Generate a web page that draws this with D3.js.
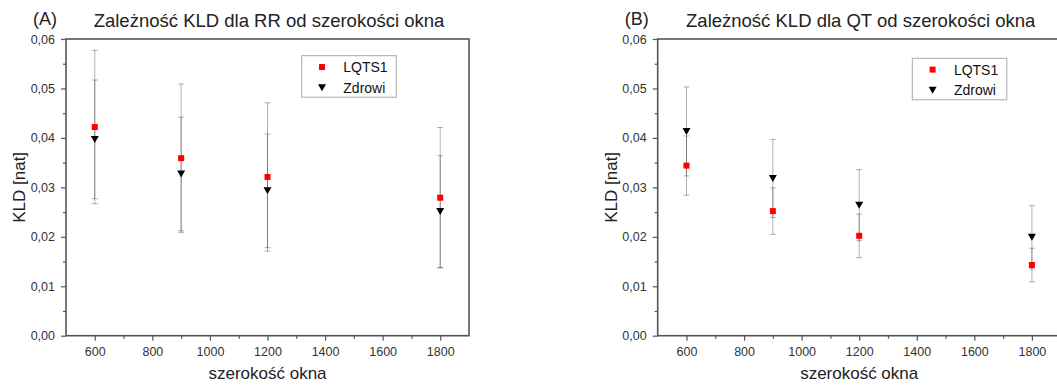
<!DOCTYPE html>
<html>
<head>
<meta charset="utf-8">
<script src="https://cdn.jsdelivr.net/npm/d3@7"></script>
<style>
    body { margin: 0; background: #fff; }
    svg { display: block; font-family: "Liberation Sans", Arial, sans-serif; }
</style>
</head>
<body>
<svg id="chart" width="1057" height="385"></svg>
<script>
// Window widths (x values)
var windows = [600, 900, 1200, 1800];
var xTicks = [600, 800, 1000, 1200, 1400, 1600, 1800];
var yTicks = [0, 0.01, 0.02, 0.03, 0.04, 0.05, 0.06];
var seriesNames = ["LQTS1", "Zdrowi"];

// (A) RR
var rrLqtsMean = [0.0422, 0.0359, 0.0321, 0.0279];
var rrLqtsErr = [0.0155, 0.0150, 0.0150, 0.0142];
var rrZdrowiMean = [0.0397, 0.0327, 0.0293, 0.0251];
var rrZdrowiErr = [0.0120, 0.0115, 0.0115, 0.0113];

// (B) QT
var qtLqtsMean = [0.0344, 0.0252, 0.0202, 0.0143];
var qtLqtsErr = [0.0060, 0.0047, 0.0044, 0.0034];
var qtZdrowiMean = [0.0413, 0.0318, 0.0264, 0.0199];
var qtZdrowiErr = [0.0090, 0.0079, 0.0072, 0.0064];

var svg = d3.select("#chart");
var plotW = 403, plotH = 296.7;
var fmtY = function (d) { return d3.format(".2f")(d).replace(".", ","); };

function drawPanel(left, letter, title, lqtsMean, lqtsErr, zdrMean, zdrErr, legendPos) {
    var top = 39;
    var g = svg.append("g").attr("transform", "translate(" + left + "," + top + ")");

    var x = d3.scaleLinear().domain([500, 1900]).range([0, plotW]);
    var y = d3.scaleLinear().domain([0, 0.06]).range([plotH, 0]);

    // minor ticks
    var minorX = d3.range(700, 1900, 200);
    var minorY = d3.range(0.005, 0.06, 0.01);
    g.append("g").attr("transform", "translate(0," + plotH + ")")
        .call(d3.axisBottom(x).tickValues(minorX).tickSize(3).tickFormat(""))
        .call(styleAxis);
    g.append("g")
        .call(d3.axisLeft(y).tickValues(minorY).tickSize(3).tickFormat(""))
        .call(styleAxis);

    // major ticks
    g.append("g").attr("transform", "translate(0," + plotH + ")")
        .call(d3.axisBottom(x).tickValues(xTicks).tickSize(5).tickPadding(6).tickFormat(d3.format("d")))
        .call(styleAxis);
    g.append("g")
        .call(d3.axisLeft(y).tickValues(yTicks).tickSize(5).tickPadding(6).tickFormat(fmtY))
        .call(styleAxis);

    // frame
    g.append("rect").attr("width", plotW).attr("height", plotH)
        .attr("fill", "none").attr("stroke", "#555").attr("stroke-width", 1.6);

    // error bars
    var series = [
        { mean: lqtsMean, err: lqtsErr },
        { mean: zdrMean, err: zdrErr }
    ];
    series.forEach(function (s) {
        var data = windows.map(function (w, i) { return { w: w, m: s.mean[i], e: s.err[i] }; });
        var eb = g.append("g").attr("stroke", "#000").attr("stroke-opacity", 0.3).attr("stroke-width", 1);
        eb.selectAll("line.v").data(data).enter().append("line")
            .attr("x1", function (d) { return x(d.w); }).attr("x2", function (d) { return x(d.w); })
            .attr("y1", function (d) { return y(d.m + d.e); }).attr("y2", function (d) { return y(d.m - d.e); });
        eb.selectAll("line.hi").data(data).enter().append("line")
            .attr("x1", function (d) { return x(d.w) - 3; }).attr("x2", function (d) { return x(d.w) + 3; })
            .attr("y1", function (d) { return y(d.m + d.e); }).attr("y2", function (d) { return y(d.m + d.e); });
        eb.selectAll("line.lo").data(data).enter().append("line")
            .attr("x1", function (d) { return x(d.w) - 3; }).attr("x2", function (d) { return x(d.w) + 3; })
            .attr("y1", function (d) { return y(d.m - d.e); }).attr("y2", function (d) { return y(d.m - d.e); });
    });

    // markers
    g.selectAll("rect.lqts").data(lqtsMean).enter().append("rect")
        .attr("x", function (d, i) { return x(windows[i]) - 3; })
        .attr("y", function (d) { return y(d) - 3; })
        .attr("width", 6).attr("height", 6).attr("fill", "#f00");
    g.selectAll("path.zdr").data(zdrMean).enter().append("path")
        .attr("d", "M-4,-3.5L4,-3.5L0,3.5Z")
        .attr("transform", function (d, i) { return "translate(" + x(windows[i]) + "," + y(d) + ")"; })
        .attr("fill", "#000");

    // legend
    var lg = g.append("g").attr("transform", "translate(" + legendPos[0] + "," + legendPos[1] + ")");
    lg.append("rect").attr("width", 94.5).attr("height", 41.5)
        .attr("fill", "#fff").attr("stroke", "#aaa").attr("stroke-width", 1);
    lg.append("rect").attr("x", 17.3).attr("y", 8.3).attr("width", 6).attr("height", 6).attr("fill", "#f00");
    lg.append("path").attr("d", "M-4,-3.5L4,-3.5L0,3.5Z")
        .attr("transform", "translate(20.3,32)").attr("fill", "#000");
    lg.selectAll("text").data(seriesNames).enter().append("text")
        .attr("x", 41.6).attr("y", function (d, i) { return 16.5 + i * 20.5; })
        .attr("font-size", "14px").attr("fill", "#111").text(function (d) { return d; });

    // titles
    svg.append("text").attr("x", left - 33).attr("y", 25).attr("font-size", "18px")
        .attr("fill", "#222").text("(" + letter + ")");
    svg.append("text").attr("x", left + plotW / 2 + 1.5).attr("y", 26.5).attr("font-size", "18.5px")
        .attr("text-anchor", "middle").attr("fill", "#222").text(title);

    // axis titles
    svg.append("text").attr("x", left + plotW / 2).attr("y", 379).attr("font-size", "17px")
        .attr("text-anchor", "middle").attr("fill", "#222").text("szerokość okna");
    svg.append("text").attr("transform", "translate(" + (left - 41) + "," + (top + plotH / 2) + ") rotate(-90)")
        .attr("font-size", "17px").attr("text-anchor", "middle").attr("fill", "#222").text("KLD [nat]");
}

function styleAxis(sel) {
    sel.select(".domain").remove();
    sel.selectAll(".tick line").attr("stroke", "#555").attr("stroke-width", 1.2);
    sel.selectAll(".tick text").attr("fill", "#333").style("font-size", "12.5px")
        .style("font-family", "\"Liberation Sans\", Arial, sans-serif");
}

drawPanel(66, "A", "Zależność KLD dla RR od szerokości okna",
    rrLqtsMean, rrLqtsErr, rrZdrowiMean, rrZdrowiErr, [235.7, 16.7]);
drawPanel(657.7, "B", "Zależność KLD dla QT od szerokości okna",
    qtLqtsMean, qtLqtsErr, qtZdrowiMean, qtZdrowiErr, [254.6, 19.3]);
</script>
</body>
</html>
